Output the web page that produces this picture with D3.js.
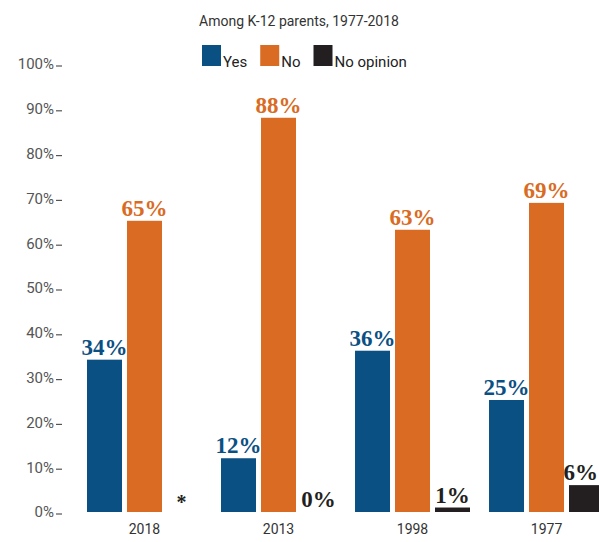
<!DOCTYPE html>
<html>
<head>
<meta charset="utf-8">
<script src="https://cdn.jsdelivr.net/npm/d3@7"></script>
<style>
  html, body { margin: 0; padding: 0; background: #fff; }
  svg { display: block; }
</style>
</head>
<body>
<svg id="chart" width="599" height="542"></svg>
<script>
const years = ["2018", "2013", "1998", "1977"];
const seriesNames = ["Yes", "No", "No opinion"];
const yesValues = [34, 12, 36, 25];
const noValues = [65, 88, 63, 69];
const noOpinionValues = [null, 0, 1, 6]; // null = "*" (less than 0.5%)
const yTicks = [0, 10, 20, 30, 40, 50, 60, 70, 80, 90, 100];
const title = "Among K-12 parents, 1977-2018";
const colors = ["#0b5083", "#d96b23", "#231f20"];

const seriesValues = [yesValues, noValues, noOpinionValues];

const svg = d3.select("#chart");
const sansFont = "Roboto, 'Liberation Sans', sans-serif";
const serifFont = "'Liberation Serif', 'DejaVu Serif', serif";

const y = d3.scaleLinear().domain([0, 100]).range([512, 64]);
const x0 = d3.scaleBand().domain(years).range([87, 604]).paddingInner(0.142).paddingOuter(0);
const x1 = d3.scaleBand().domain(seriesNames).range([0, x0.bandwidth()]).paddingInner(0.125).paddingOuter(0);
const color = d3.scaleOrdinal().domain(seriesNames).range(colors);

// Title
svg.append("text")
  .attr("x", 299).attr("y", 26)
  .attr("text-anchor", "middle")
  .attr("font-family", sansFont)
  .attr("font-size", 14)
  .attr("fill", "#333")
  .text(title);

// Legend
const legend = svg.append("g");
let lx = 202;
seriesNames.forEach((name, i) => {
  legend.append("rect")
    .attr("x", lx).attr("y", 45).attr("width", 19).attr("height", 21)
    .attr("fill", color(name));
  const t = legend.append("text")
    .attr("x", lx + 21).attr("y", 67)
    .attr("font-family", sansFont)
    .attr("font-size", 15)
    .attr("fill", "#222")
    .text(name);
  lx += 21 + t.node().getComputedTextLength() + 13;
});

// Y axis
const yAxis = d3.axisLeft(y).tickValues(yTicks).tickSize(6).tickPadding(2).tickFormat(d => d + "%");
const yg = svg.append("g").attr("transform", "translate(62,0)").call(yAxis);
yg.select(".domain").remove();
yg.selectAll(".tick line").attr("stroke", "#555").attr("stroke-width", 1.2)
  .attr("transform", "translate(0,1.5)");
yg.selectAll(".tick text")
  .attr("font-family", sansFont).attr("font-size", 15).attr("fill", "#555");

// X labels (centered on group)
const xAxis = d3.axisBottom(x0).tickSize(0).tickPadding(0);
const xg = svg.append("g").attr("transform", "translate(0,524)").call(xAxis);
xg.select(".domain").remove();
xg.selectAll(".tick text")
  .attr("font-family", sansFont).attr("font-size", 14).attr("fill", "#333");

// Bars
const data = [];
years.forEach((yr, gi) => {
  seriesNames.forEach((s, si) => {
    data.push({ year: yr, series: s, value: seriesValues[si][gi] });
  });
});

const W = +svg.attr("width");
const groups = svg.append("g");
data.forEach(d => {
  const bx = x0(d.year) + x1(d.series);
  const cx = bx + x1.bandwidth() / 2;
  if (d.value === null) {
    groups.append("text")
      .attr("x", cx - 3).attr("y", 509)
      .attr("text-anchor", "middle")
      .attr("font-family", serifFont).attr("font-weight", "bold")
      .attr("font-size", 20)
      .attr("fill", color(d.series))
      .text("*");
    return;
  }
  if (d.value > 0) {
    groups.append("rect")
      .attr("x", bx).attr("y", y(d.value))
      .attr("width", x1.bandwidth()).attr("height", y(0) - y(d.value))
      .attr("fill", color(d.series));
  }
  const t = groups.append("text")
    .attr("x", cx).attr("y", y(d.value) - 5)
    .attr("text-anchor", "middle")
    .attr("font-family", serifFont).attr("font-weight", "bold")
    .attr("font-size", 23)
    .attr("fill", color(d.series))
    .text(d.value + "%");
  const w = t.node().getComputedTextLength();
  if (cx + w / 2 > W - 1) {
    t.attr("text-anchor", "end").attr("x", W - 1);
  }
});
</script>
</body>
</html>
